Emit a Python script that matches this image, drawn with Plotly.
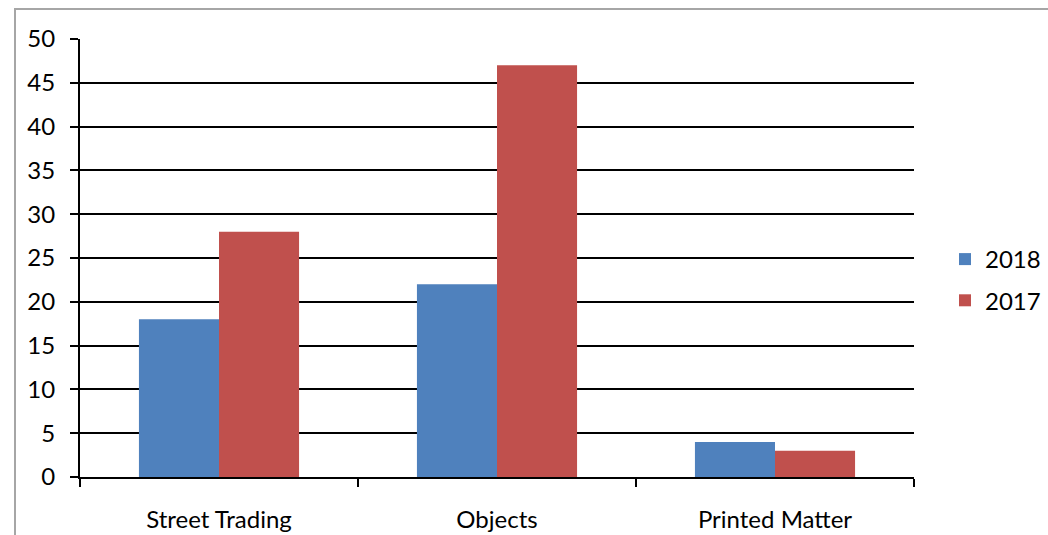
import plotly.graph_objects as go

categories = ["Street Trading", "Objects", "Printed Matter"]
series_2018 = [18, 22, 4]
series_2017 = [28, 47, 3]
y_ticks = [0, 5, 10, 15, 20, 25, 30, 35, 40, 45, 50]

FONT = "Lato, 'Open Sans', sans-serif"
FS = 24

fig = go.Figure()
fig.add_trace(go.Bar(x=categories, y=series_2018, name="2018", legendgroup="a",
                     marker=dict(color="#4F81BD", line=dict(width=0))))
fig.add_trace(go.Bar(x=categories, y=series_2017, name="2017", legendgroup="b",
                     marker=dict(color="#C0504D", line=dict(width=0))))

W, H = 1048, 535
L, R, T, B = 80, 134, 39, 58
pw, ph = W - L - R, H - T - B

def px_x(x):
    return (x - L) / pw

def px_y(y):
    return (H - B - y) / ph

fig.update_layout(
    width=W, height=H,
    margin=dict(l=L, r=R, t=T, b=B, pad=0, autoexpand=False),
    paper_bgcolor="white", plot_bgcolor="white",
    barmode="group", bargap=0.424, bargroupgap=0,
    font=dict(family=FONT, size=FS, color="#000000"),
    showlegend=True,
    legend=dict(
        x=px_x(945), y=px_y(280), xanchor="left", yanchor="middle",
        font=dict(family=FONT, size=FS, color="#000000"),
        itemwidth=30, tracegroupgap=7, bgcolor="rgba(0,0,0,0)",
    ),
    xaxis=dict(
        type="category", tickson="boundaries", ticks="outside", ticklen=8,
        tickwidth=2, tickcolor="#000000", showline=True, linecolor="#000000",
        linewidth=2, showgrid=False, ticklabelstandoff=20, automargin=False,
        tickfont=dict(family=FONT, size=FS, color="#000000"),
    ),
    yaxis=dict(
        range=[0, 50], tickvals=y_ticks, ticks="outside", ticklen=8,
        tickwidth=2, tickcolor="#000000", showline=True, linecolor="#000000",
        linewidth=2, showgrid=True, gridcolor="#000000", gridwidth=1.5,
        zeroline=False, ticklabelstandoff=10, automargin=False,
        tickfont=dict(family=FONT, size=FS, color="#000000"),
    ),
    shapes=[dict(
        type="rect", xref="paper", yref="paper",
        x0=px_x(15), x1=px_x(1060), y0=px_y(545), y1=px_y(9),
        line=dict(color="#A6A6A6", width=2), fillcolor="rgba(0,0,0,0)", layer="below",
    )],
)

fig.write_html("out.html")
